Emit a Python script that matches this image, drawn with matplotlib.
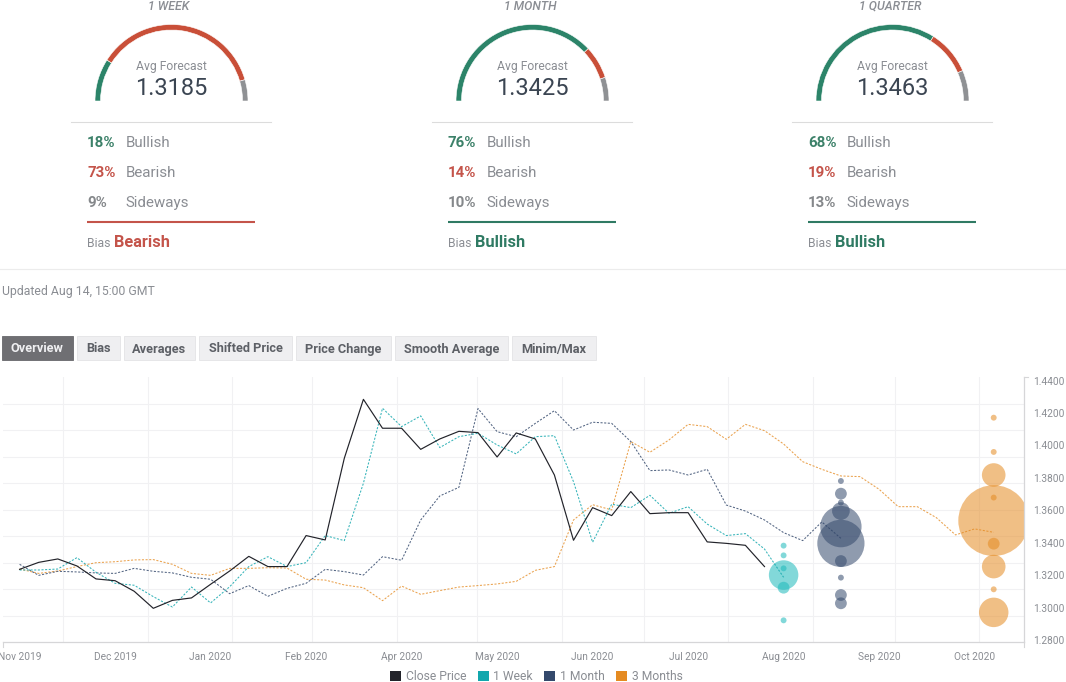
import matplotlib
matplotlib.use("Agg")
import matplotlib.pyplot as plt
from matplotlib.patches import Wedge, Rectangle, Patch

plt.rcParams['font.family'] = ['Roboto', 'DejaVu Sans']

# ---------- data ----------
close_price = [1.3237,1.3280,1.3301,1.3258,1.3178,1.3167,1.3102,1.2997,1.3046,1.3061,
               1.3145,1.3227,1.3317,1.3254,1.3254,1.3445,1.3418,1.3921,1.4284,1.4106,
               1.4106,1.3976,1.4040,1.4087,1.4079,1.3929,1.4077,1.4040,1.3818,1.3416,
               1.3617,1.3568,1.3716,1.3580,1.3586,1.3586,1.3406,1.3397,1.3385,1.3254]
week_avg = [1.3233,1.3233,1.3239,1.3309,1.3219,1.3151,1.3139,1.3069,1.3005,1.3128,
            1.3030,1.3130,1.3254,1.3315,1.3254,1.3278,1.3445,1.3414,1.3767,1.4229,
            1.4116,1.4182,1.3987,1.4054,1.4075,1.4003,1.3948,1.4054,1.4060,1.3777,
            1.3404,1.3638,1.3617,1.3693,1.3582,1.3623,1.3516,1.3445,1.3457,1.3362,1.3188]
month_avg = [1.3268,1.3200,1.3225,1.3221,1.3215,1.3212,1.3243,1.3225,1.3215,1.3188,
             1.3176,1.3087,1.3137,1.3071,1.3120,1.3151,1.3237,1.3223,1.3202,1.3315,
             1.3293,1.3541,1.3689,1.3742,1.4227,1.4085,1.4054,1.4136,1.4214,1.4095,
             1.4143,1.4136,1.4024,1.3845,1.3849,1.3818,1.3853,1.3633,1.3596,1.3541,
             1.3463,1.3414,1.3529,1.3428]
quarter_avg = [1.3239,1.3212,1.3227,1.3254,1.3278,1.3284,1.3295,1.3297,1.3268,1.3212,
               1.3200,1.3243,1.3243,1.3247,1.3245,1.3176,1.3171,1.3141,1.3124,1.3044,
               1.3134,1.3083,1.3106,1.3128,1.3137,1.3147,1.3163,1.3231,1.3254,1.3541,
               1.3635,1.3603,1.4024,1.3958,1.4034,1.4130,1.4116,1.4038,1.4130,1.4091,
               1.4009,1.3900,1.3853,1.3812,1.3808,1.3730,1.3623,1.3623,1.3555,1.3449,
               1.3486,1.3465]

week_bubble_values = [1.3383,1.3323,1.3243,1.3202,1.3124,1.2923]
week_bubble_counts = [1,1,1,5,2,1]
month_bubble_values = [1.3781,1.3703,1.3648,1.3596,1.3500,1.3397,1.3288,1.3186,1.3079,1.3028]
month_bubble_counts = [1,2,1,3,7,8,2,1,2,2]
quarter_bubble_values = [1.4171,1.3960,1.3818,1.3679,1.3537,1.3395,1.3254,1.3114,1.2972]
quarter_bubble_counts = [1,1,4,1,12,2,4,1,5]
bubble_slots = [40, 43, 51]

month_labels = ['Nov 2019','Dec 2019','Jan 2020','Feb 2020','Apr 2020','May 2020',
                'Jun 2020','Jul 2020','Aug 2020','Sep 2020','Oct 2020']
month_slots = [0,5,10,15,20,25,30,35,40,45,50]
month_grid = [2.29,6.71,11.14,15.29,19.74,23.96,28.40,32.70,37.10,41.55,45.85,50.25]
price_ticks = [1.28,1.30,1.32,1.34,1.36,1.38,1.40,1.42,1.44]

horizons = ['1 WEEK','1 MONTH','1 QUARTER']
avg_forecast = ['1.3185','1.3425','1.3463']
bullish = [18,76,68]
bearish = [73,14,19]
sideways = [9,10,13]
bias = ['Bearish','Bullish','Bullish']
tabs = ['Overview','Bias','Averages','Shifted Price','Price Change','Smooth Average','Minim/Max']

# ---------- styles ----------
W, H = 1066, 682
GREEN, RED, GREY = '#2c8469', '#c94f38', '#8f9194'
TXT_GREEN, TXT_RED = '#3c8169', '#c4544a'
LABEL = '#8a8d93'
C_CLOSE, C_WEEK, C_MONTH, C_QUARTER = '#22232a', '#12a7ad', '#34496c', '#e58b22'

fig = plt.figure(figsize=(W/100, H/100), dpi=100, facecolor='white')

# page layer in pixel coordinates
page = fig.add_axes([0, 0, 1, 1], zorder=0)
page.set_xlim(0, W); page.set_ylim(0, H); page.axis('off')
Y = lambda y: H - y

def put(x, y, s, **kw):
    kw.setdefault('va', 'center'); kw.setdefault('ha', 'left'); kw.setdefault('color', LABEL)
    return page.text(x, Y(y), s, **kw)

gauge_x = [171.5, 532.5, 892.5]
for i in range(3):
    cx = gauge_x[i]; dx = cx - 171.5
    put(cx - 2.5, 6, horizons[i], ha='center', fontsize=8.8, style='italic', fontweight='medium')
    a1 = 180 - bullish[i]*1.8
    a2 = a1 - bearish[i]*1.8
    for t1, t2, c in [(a1,180,GREEN),(a2,a1,RED),(0,a2,GREY)]:
        page.add_patch(Wedge((cx, Y(101)), 76.5, t1, t2, width=5.5, fc=c, ec='white', lw=0.4))
    put(cx, 66.5, 'Avg Forecast', ha='center', fontsize=8.7)
    put(cx, 88.5, avg_forecast[i], ha='center', fontsize=17, color='#3b4552')
    page.plot([cx-100.5, cx+99.5], [Y(122)]*2, color='#dcdcdc', lw=0.8)
    rows = [(bullish[i],'Bullish',TXT_GREEN,147),(bearish[i],'Bearish',TXT_RED,177),(sideways[i],'Sideways','#85888b',207)]
    for p, name, c, y in rows:
        put(87+dx, y, f'{p}%', color=c, fontsize=10.8, fontweight='bold', va='baseline')
        put(125.5+dx, y, name, fontsize=10.9, va='baseline')
    bc = TXT_RED if bias[i]=='Bearish' else '#2f7a63'
    page.plot([87+dx, 255+dx], [Y(221.7)]*2, color=bc, lw=1.5, solid_capstyle='butt')
    put(87+dx, 247, 'Bias', fontsize=8.8, va='baseline')
    put(114+dx, 247, bias[i], color=bc, fontsize=11.8, fontweight='bold', va='baseline')

page.plot([0, W], [Y(269)]*2, color='#ececec', lw=0.8)
put(1.5, 291, 'Updated Aug 14, 15:00 GMT', fontsize=8.8)

tab_edges = [(2,72.5),(77,119.5),(124,195),(199,292),(296,391),(395,508),(512,596)]
for k, (name, (a, b)) in enumerate(zip(tabs, tab_edges)):
    active = k == 0
    page.add_patch(Rectangle((a, Y(360)), b-a, 24, fc='#6f6f73' if active else '#efeff1',
                             ec='#68686c' if active else '#e4e4e6', lw=0.6))
    put((a+b)/2, 352.5, name, ha='center', va='baseline', fontsize=9.2, fontweight='bold',
        color='#f0f0f2' if active else '#5d6066')

# chart
L, R, T, B = 3, 1024, 377.3, 642.3
ax = fig.add_axes([L/W, (H-B)/H, (R-L)/W, (B-T)/H], zorder=1)
ax.patch.set_alpha(0)
ax.set_xlim(-0.869, 52.586)
y_top = 1.44 + (380.5-T)/32.47*0.02
y_bot = 1.28 - (B-640.3)/32.47*0.02
ax.set_ylim(y_bot, y_top)

ax.set_xticks(month_slots, month_labels)
ax.set_xticks(month_grid, minor=True)
ax.yaxis.tick_right()
ax.set_yticks(price_ticks, [f'{v:.4f}' for v in price_ticks])
ax.set_yticks([y_bot + (y_top-y_bot)*j/10 for j in range(1, 10)], minor=True)
ax.grid(which='minor', color='#f1f1f3', lw=0.8)
ax.grid(which='major', visible=False)
ax.set_axisbelow(True)
ax.tick_params(which='both', length=0)
ax.tick_params(axis='x', which='major', pad=6.8, labelsize=7.3, labelcolor=LABEL)
ax.tick_params(axis='y', which='major', pad=6.2, labelsize=7.3, labelcolor=LABEL)
for s in ['top', 'left']:
    ax.spines[s].set_visible(False)
for s in ['bottom', 'right']:
    ax.spines[s].set_color('#d6d6d8'); ax.spines[s].set_linewidth(0.9)
ax.plot([0, 0], [0, -5/265], transform=ax.transAxes, color='#d6d6d8', lw=0.8, clip_on=False)
ax.plot([1, 1], [0, -5/265], transform=ax.transAxes, color='#d6d6d8', lw=0.8, clip_on=False)
ax.plot([1, 1+4/1021], [1, 1], transform=ax.transAxes, color='#d6d6d8', lw=0.8, clip_on=False)

R_PX = 2.95
def bubbles(slot, values, counts, color):
    sizes = [(2*R_PX*0.72*n)**2 for n in counts]
    ax.scatter([slot]*len(values), values, s=sizes, color=color, alpha=0.55, linewidths=0, zorder=2)

bubbles(bubble_slots[0], week_bubble_values, week_bubble_counts, '#1cb9bb')
bubbles(bubble_slots[1], month_bubble_values, month_bubble_counts, C_MONTH)
bubbles(bubble_slots[2], quarter_bubble_values, quarter_bubble_counts, C_QUARTER)

dash = (0, (2.0, 1.5))
ax.plot(range(len(quarter_avg)), quarter_avg, color=C_QUARTER, lw=0.75, ls=dash, alpha=0.8, zorder=3)
ax.plot(range(len(month_avg)), month_avg, color=C_MONTH, lw=0.75, ls=dash, alpha=0.85, zorder=3)
ax.plot(range(len(week_avg)), week_avg, color=C_WEEK, lw=0.75, ls=dash, alpha=0.85, zorder=3)
ax.plot(range(len(close_price)), close_price, color=C_CLOSE, lw=0.85, zorder=4)

handles = [Patch(fc=c, ec='none') for c in (C_CLOSE, C_WEEK, C_MONTH, C_QUARTER)]
fig.legend(handles, ['Close Price','1 Week','1 Month','3 Months'], ncol=4, frameon=False,
           loc='center', bbox_to_anchor=(536.5/W, (H-676.5)/H), fontsize=8.7, labelcolor=LABEL,
           handlelength=0.9, handleheight=0.9, handletextpad=0.4, columnspacing=0.95,
           borderpad=0, borderaxespad=0)

fig.savefig('out.png', dpi=100)
